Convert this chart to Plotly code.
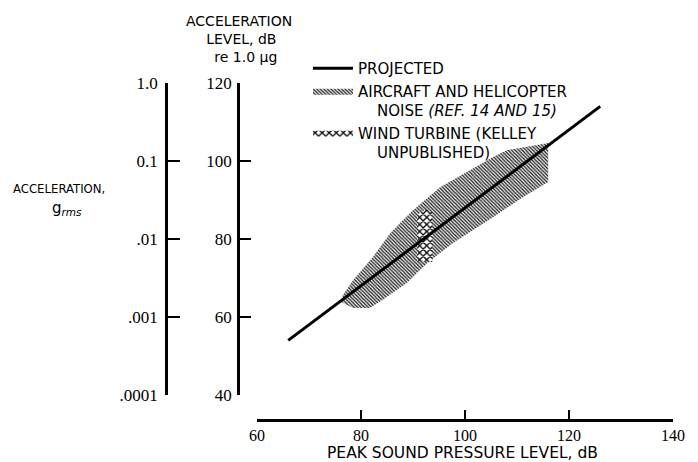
import plotly.graph_objects as go

W, H = 698, 462

# Projected response: peak sound pressure level (dB) -> acceleration level (dB re 1.0 ug)
proj_spl = [66, 126]
proj_acc = [54, 114]

# Aircraft and helicopter noise envelope (outline of the shaded band)
air_spl = [76.5, 78.5, 82.3, 85.6, 88.1, 90.0, 95.2, 105.4, 108.1, 116.0,
           116.0, 111.2, 105.4, 97.7, 92.7, 88.8, 84.2, 81.7, 78.5, 76.3]
air_acc = [65.6, 69.5, 75.4, 81.5, 84.9, 87.4, 93.3, 101.0, 102.8, 104.6,
           94.6, 90.8, 85.6, 79.0, 73.8, 68.7, 64.4, 62.3, 62.3, 63.8]

# Wind turbine measurements (Kelley, unpublished)
wt_spl = [90.8, 90.8, 92.5, 93.7, 93.7]
wt_acc = [74.1, 86.2, 87.6, 86.8, 74.1]

# Axis ticks
spl_ticks = [60, 80, 100, 120, 140]
db_ticks = [40, 60, 80, 100, 120]
g_ticks = [0.0001, 0.001, 0.01, 0.1, 1.0]
g_labels = [".0001", ".001", ".01", "0.1", "1.0"]

SANS = "DejaVu Sans, sans-serif"
NARROW = "DejaVu Sans Condensed, DejaVu Sans, sans-serif"
SERIF = "Liberation Serif, serif"


def px_x(p):
    return p / W


def px_y(p):
    return 1 - p / H


fig = go.Figure()

fig.add_trace(go.Scatter(
    x=air_spl, y=air_acc, mode="lines", fill="toself",
    line=dict(width=0, color="rgba(0,0,0,0)"),
    fillcolor="white",
    fillpattern=dict(shape="\\", size=2.5, solidity=0.55,
                     fgcolor="#222222", bgcolor="white", fillmode="replace"),
    name="AIRCRAFT AND HELICOPTER<br>    NOISE <i>(REF. 14 AND 15)</i>",
    legendrank=2, hoverinfo="skip",
))

fig.add_trace(go.Scatter(
    x=wt_spl, y=wt_acc, mode="lines", fill="toself",
    line=dict(width=0, color="rgba(0,0,0,0)"),
    fillcolor="white",
    fillpattern=dict(shape="x", size=5, solidity=0.45,
                     fgcolor="black", bgcolor="white", fillmode="replace"),
    name="WIND TURBINE (KELLEY<br>    UNPUBLISHED)",
    legendrank=3, hoverinfo="skip",
))

fig.add_trace(go.Scatter(
    x=proj_spl, y=proj_acc, mode="lines",
    line=dict(color="black", width=3),
    name="PROJECTED", legendrank=1, hoverinfo="skip",
))

# Same projected line expressed in g (0 dB = 1.0 ug), carried on the g axis
fig.add_trace(go.Scatter(
    x=proj_spl, y=[10 ** ((a - 120) / 20) for a in proj_acc],
    yaxis="y2", mode="lines", line=dict(width=0, color="rgba(0,0,0,0)"),
    showlegend=False, hoverinfo="skip",
))

axis_common = dict(
    showgrid=False, zeroline=False, showline=True, automargin=False,
    linecolor="black", linewidth=2.5,
    ticks="inside", tickcolor="black", tickwidth=2,
)

fig.update_layout(
    template="none",
    width=W, height=H, autosize=False,
    margin=dict(l=0, r=0, t=0, b=0, pad=0, autoexpand=False),
    paper_bgcolor="white", plot_bgcolor="white",
    xaxis=dict(
        **axis_common,
        domain=[px_x(257), px_x(673)], range=[60, 140],
        anchor="free", position=px_y(420),
        tickvals=spl_ticks, ticklen=9,
        tickfont=dict(family=SERIF, size=16, color="black"),
    ),
    yaxis=dict(
        **axis_common,
        domain=[px_y(395), px_y(83)], range=[40, 120],
        anchor="free", position=px_x(238), side="left",
        tickvals=db_ticks, ticklen=11, ticklabelstandoff=2,
        tickfont=dict(family=SERIF, size=17, color="black"),
    ),
    yaxis2=dict(
        **axis_common,
        type="log", range=[-4, 0],
        overlaying="y", anchor="free", position=px_x(166), side="left",
        tickvals=g_ticks, ticktext=g_labels, ticklen=12, ticklabelstandoff=4,
        tickfont=dict(family=SERIF, size=17, color="black"),
    ),
    showlegend=True,
    legend=dict(
        x=px_x(308), y=px_y(52), xanchor="left", yanchor="top",
        font=dict(family=SANS, size=15, color="black"),
        valign="top", itemwidth=40, tracegroupgap=0,
        bgcolor="rgba(0,0,0,0)", borderwidth=0,
    ),
)

annotations = [
    dict(text="ACCELERATION<br> LEVEL, dB<br>   re 1.0 μg", x=px_x(239), y=px_y(11),
         xanchor="center", yanchor="top", font=dict(family=SANS, size=14)),
    dict(text="ACCELERATION,", x=px_x(11), y=px_y(188),
         xanchor="left", yanchor="middle", font=dict(family=NARROW, size=13)),
    dict(text="g<sub><i>rms</i></sub>", x=px_x(50), y=px_y(209),
         xanchor="left", yanchor="middle", font=dict(family=SANS, size=15)),
    dict(text="PEAK SOUND PRESSURE LEVEL, dB", x=px_x(462), y=px_y(453),
         xanchor="center", yanchor="middle", font=dict(family=SANS, size=15.5)),
]
for a in annotations:
    a.update(xref="paper", yref="paper", showarrow=False)
    a["font"]["color"] = "black"
fig.update_layout(annotations=annotations)

# The page body keeps no default margin so the figure sits at the window origin
fig.write_html("out.html", post_script="document.body.style.margin='0';")
